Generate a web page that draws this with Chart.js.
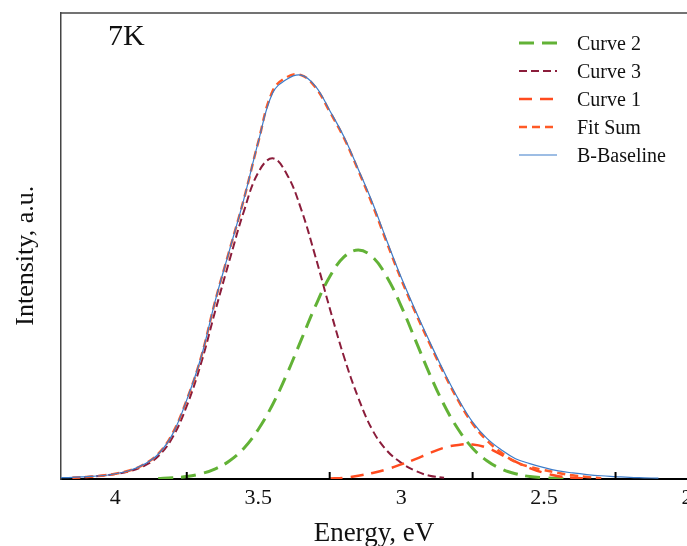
<!DOCTYPE html>
<html>
<head>
<meta charset="utf-8">
<script src="https://cdn.jsdelivr.net/npm/chart.js@4.4.0/dist/chart.umd.min.js"></script>
<style>
  html, body { margin: 0; padding: 0; background: #fff; overflow: hidden; }
</style>
</head>
<body>
<canvas id="myChart" width="687" height="546"></canvas>
<script>
// photon energy, eV (x axis runs high -> low)
var energy = [4.2, 4.15, 4.1, 4.05, 4.0, 3.95, 3.9, 3.85, 3.8, 3.75,
              3.7, 3.65, 3.6, 3.55, 3.5, 3.45, 3.4, 3.35, 3.3, 3.25,
              3.2, 3.15, 3.1, 3.05, 3.0, 2.95, 2.9, 2.85, 2.8, 2.75,
              2.7, 2.65, 2.6, 2.55, 2.5, 2.45, 2.4, 2.35, 2.3, 2.25,
              2.2, 2.15, 2.1, 2.05, 2.0];

var curve2 = [null, null, null, null, null, null, null, 0.001, 0.003, 0.006,
              0.013, 0.025, 0.045, 0.076, 0.122, 0.183, 0.258, 0.342, 0.426, 0.498,
              0.547, 0.564, 0.547, 0.498, 0.426, 0.342, 0.258, 0.183, 0.122, 0.076,
              0.045, 0.025, 0.013, 0.006, 0.003, 0.001, 0, null, null, null,
              null, null, null, null, null];

var curve3 = [null, 0.003, 0.005, 0.008, 0.012, 0.019, 0.032, 0.056, 0.102, 0.18,
              0.285, 0.415, 0.54, 0.66, 0.755, 0.79, 0.751, 0.665, 0.548, 0.421,
              0.301, 0.2, 0.12, 0.07, 0.04, 0.02, 0.008, 0.003, null, null,
              null, null, null, null, null, null, null, null, null, null,
              null, null, null, null, null];

var curve1 = [null, null, null, null, null, null, null, null, null, null,
              null, null, null, null, null, null, null, null, null, 0.001,
              0.003, 0.008, 0.015, 0.024, 0.036, 0.049, 0.064, 0.077, 0.084, 0.085,
              0.077, 0.06, 0.043, 0.027, 0.015, 0.007, 0.003, 0.001, null, null,
              null, null, null, null, null];

var fitSum = [null, 0.003, 0.005, 0.008, 0.013, 0.021, 0.036, 0.062, 0.112, 0.195,
              0.3, 0.44, 0.565, 0.69, 0.83, 0.955, 0.99, 0.995, 0.965, 0.905,
              0.84, 0.76, 0.675, 0.582, 0.492, 0.41, 0.333, 0.26, 0.193, 0.136,
              0.095, 0.065, 0.042, 0.03, 0.022, 0.015, 0.009, 0.005, 0.002, null,
              null, null, null, null, null];

var baseline = [0.003, 0.004, 0.006, 0.008, 0.013, 0.021, 0.036, 0.061, 0.11, 0.195,
                0.3, 0.44, 0.565, 0.69, 0.83, 0.95, 0.985, 0.995, 0.968, 0.908,
                0.843, 0.763, 0.68, 0.587, 0.497, 0.415, 0.338, 0.264, 0.197, 0.14,
                0.1, 0.072, 0.05, 0.038, 0.028, 0.02, 0.015, 0.011, 0.008, 0.006,
                0.004, 0.003, 0.002, null, null];

var minorTicks = [3.75, 3.25, 2.75, 2.25];
var legendOrder = ['Curve 2', 'Curve 3', 'Curve 1', 'Fit Sum', 'B-Baseline'];
var sampleLabel = '7K';

function toPoints(values) {
    return energy.map(function(e, i) { return {x: e, y: values[i]}; });
}

var serif = '"Liberation Serif", "Times New Roman", serif';

// draws the top frame line, inward ticks, the 7K label and the legend
var decorations = {
    id: 'decorations',
    afterDraw: function(chart) {
        var ctx = chart.ctx, area = chart.chartArea, xs = chart.scales.x;
        ctx.save();
        ctx.strokeStyle = '#444';
        ctx.lineWidth = 1.5;
        ctx.beginPath();
        ctx.moveTo(area.left, area.top);
        ctx.lineTo(area.right, area.top);
        ctx.stroke();

        ctx.strokeStyle = '#000';
        ctx.lineWidth = 2;
        minorTicks.forEach(function(v) {
            var px = xs.getPixelForValue(v);
            ctx.beginPath();
            ctx.moveTo(px, area.bottom);
            ctx.lineTo(px, area.bottom - 7);
            ctx.stroke();
        });

        ctx.fillStyle = '#111';
        ctx.font = '30px ' + serif;
        ctx.textBaseline = 'alphabetic';
        ctx.fillText(sampleLabel, 108, 45);

        ctx.font = '20px ' + serif;
        legendOrder.forEach(function(name, i) {
            var ds = chart.data.datasets.find(function(d) { return d.label === name; });
            var y = 43 + i * 28;
            ctx.strokeStyle = ds.borderColor;
            ctx.lineWidth = ds.borderWidth;
            ctx.setLineDash(ds.borderDash || []);
            ctx.beginPath();
            ctx.moveTo(519, y);
            ctx.lineTo(557, y);
            ctx.stroke();
            ctx.setLineDash([]);
            ctx.fillStyle = '#111';
            ctx.fillText(name, 577, y + 7);
        });
        ctx.restore();
    }
};

var ctx = document.getElementById('myChart').getContext('2d');
var myChart = new Chart(ctx, {
    type: 'line',
    data: {
        datasets: [
            {label: 'B-Baseline', data: toPoints(baseline), borderColor: '#3d7cc9', borderWidth: 1.2, order: 0},
            {label: 'Fit Sum', data: toPoints(fitSum), borderColor: '#ff5a26', borderWidth: 2.5, borderDash: [8, 5], order: 1},
            {label: 'Curve 1', data: toPoints(curve1), borderColor: '#ff4b1f', borderWidth: 2.5, borderDash: [13, 8], order: 2},
            {label: 'Curve 3', data: toPoints(curve3), borderColor: '#8b1d3b', borderWidth: 2, borderDash: [8, 4], order: 3},
            {label: 'Curve 2', data: toPoints(curve2), borderColor: '#62b236', borderWidth: 3, borderDash: [15, 8], order: 4}
        ]
    },
    options: {
        responsive: false,
        animation: false,
        events: [],
        layout: {padding: {top: 13, left: 0, right: 0, bottom: 0}},
        elements: {
            point: {radius: 0},
            line: {tension: 0.4, fill: false}
        },
        plugins: {legend: {display: false}, tooltip: {enabled: false}},
        scales: {
            x: {
                type: 'linear',
                reverse: true,
                min: 2.0,
                max: 4.19,
                grid: {display: false},
                border: {color: '#000', width: 2},
                ticks: {
                    stepSize: 0.25,
                    autoSkip: false,
                    maxRotation: 0,
                    includeBounds: false,
                    padding: -2,
                    color: '#111',
                    font: {family: serif, size: 22},
                    callback: function(v) {
                        return Math.abs(v * 2 - Math.round(v * 2)) < 1e-6 ? String(Math.round(v * 10) / 10) : '';
                    }
                },
                title: {display: true, text: 'Energy, eV', color: '#111', padding: {top: 0, bottom: -1},
                        font: {family: serif, size: 27, lineHeight: 1}},
                afterFit: function(scale) { scale.height = 67; scale.paddingLeft = 0; scale.paddingRight = 0; }
            },
            y: {
                min: 0,
                max: 1.148,
                grid: {display: false},
                border: {color: '#444', width: 1.5},
                ticks: {display: false},
                title: {display: true, text: 'Intensity, a.u.   ', color: '#111', padding: {top: 13, bottom: 0},
                        font: {family: serif, size: 26, lineHeight: 1}},
                afterFit: function(scale) { scale.width = 61; }
            }
        }
    },
    plugins: [decorations]
});
</script>
</body>
</html>
